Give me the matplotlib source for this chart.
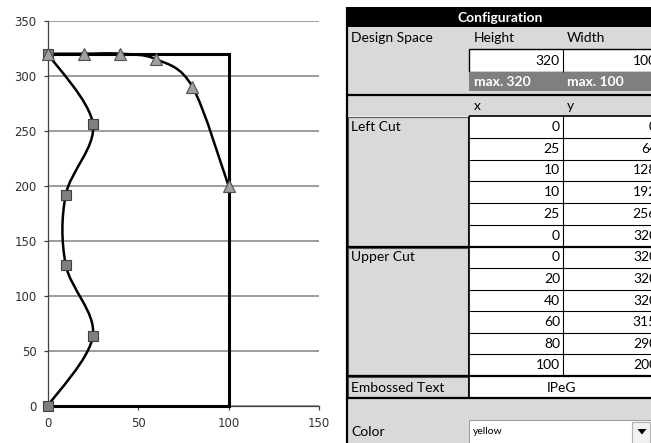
import matplotlib.pyplot as plt
from matplotlib.patches import Rectangle, PathPatch, Polygon
from matplotlib.path import Path

# chart data
design_w = 100
design_h = 320
left_x = [0, 25, 10, 10, 25, 0]
left_y = [0, 64, 128, 192, 256, 320]
upper_x = [0, 20, 40, 60, 80, 100]
upper_y = [320, 320, 320, 315, 290, 200]
x_ticks = [0, 50, 100, 150]
y_ticks = [0, 50, 100, 150, 200, 250, 300, 350]

# table texts
title = 'Configuration'
section_labels = ['Design Space', 'Left Cut', 'Upper Cut', 'Embossed Text', 'Color']
size_headers = ['Height', 'Width']
size_values = [design_h, design_w]
size_limits = ['max. 320', 'max. 100']
coord_headers = ['x', 'y']
embossed_text = 'IPeG'
color_choice = 'yellow'

W, H = 651, 443
fig = plt.figure(figsize=(W / 100, H / 100), dpi=100)


def smooth_path(xs, ys):
    # bezier through the points, like a spreadsheet "smoothed line"
    pts = list(zip(xs, ys))
    n = len(pts)
    verts = [pts[0]]
    codes = [Path.MOVETO]
    for i in range(n - 1):
        p0 = pts[max(i - 1, 0)]
        p1 = pts[i]
        p2 = pts[i + 1]
        p3 = pts[min(i + 2, n - 1)]
        c1 = (p1[0] + (p2[0] - p0[0]) / 6, p1[1] + (p2[1] - p0[1]) / 6)
        c2 = (p2[0] - (p3[0] - p1[0]) / 6, p2[1] - (p3[1] - p1[1]) / 6)
        verts += [c1, c2, p2]
        codes += [Path.CURVE4] * 3
    return Path(verts, codes)


# ---------------- chart ----------------
ax = fig.add_axes([47.7 / W, 37 / H, 271.3 / W, 385.3 / H])
ax.set_xlim(0, 150)
ax.set_ylim(0, 350)
ax.set_xticks(x_ticks)
ax.set_yticks(y_ticks)
ax.grid(axis='y', color='#8c8c8c', lw=1.2)
ax.set_axisbelow(True)
for s in ['top', 'right']:
    ax.spines[s].set_visible(False)
for s in ['left', 'bottom']:
    ax.spines[s].set_color('#404040')
    ax.spines[s].set_linewidth(0.9)
ax.tick_params(direction='out', length=3, width=0.9, color='#404040',
               labelsize=8.5, labelcolor='#303030', pad=5)

ax.plot([0, design_w, design_w, 0], [0, 0, design_h, design_h],
        color='black', lw=2.2, solid_joinstyle='miter', clip_on=False, zorder=3)
for xs, ys in [(left_x, left_y), (upper_x, upper_y)]:
    ax.add_patch(PathPatch(smooth_path(xs, ys), fill=False, edgecolor='black',
                           lw=1.8, zorder=4, clip_on=False))
ax.plot(left_x, left_y, ls='none', marker='s', ms=7, mfc='#7f7f7f',
        mec='#404040', mew=0.8, clip_on=False, zorder=5)
ax.plot(upper_x, upper_y, ls='none', marker='^', ms=8, mfc='#a0a0a0',
        mec='#505050', mew=0.8, clip_on=False, zorder=6)

# ---------------- table (pixel coordinates) ----------------
tx = fig.add_axes([0, 0, 1, 1], zorder=-1)
tx.set_xlim(0, W)
tx.set_ylim(H, 0)
tx.axis('off')

x0, xc1, xc2, x1 = 347, 469, 563, 660
light = '#d9d9d9'
dark = '#7f7f7f'
fnt = 'Lato'
fs = 10


def box(x, y, w, h, fc, ec='none', lw=0.8):
    tx.add_patch(Rectangle((x, y), w, h, facecolor=fc, edgecolor=ec, lw=lw))


def hline(y, xa, xb, lw=0.8, c='black'):
    tx.plot([xa, xb], [y, y], color=c, lw=lw, solid_capstyle='butt')


def vline(x, ya, yb, lw=0.8, c='black'):
    tx.plot([x, x], [ya, yb], color=c, lw=lw, solid_capstyle='butt')


def label(x, y, s, ha='left', color='black', weight='normal', size=fs):
    tx.text(x, y, s, ha=ha, va='center', color=color, fontweight=weight,
            fontsize=size, family=fnt)


# header
box(x0, 7, x1 - x0, 20, 'black')
label(500, 17.5, title, ha='center', color='white', weight='bold')

# design space block
box(x0, 27, x1 - x0, 67, light)
label(351, 38, section_labels[0])
label(474, 38, size_headers[0])
label(567, 38, size_headers[1])
box(xc1, 49, x1 - xc1, 23, 'white', 'black', 1.0)
vline(xc2, 49, 72)
label(560, 60.5, str(size_values[0]), ha='right')
label(657, 60.5, str(size_values[1]), ha='right')
box(xc1, 72, x1 - xc1, 19, dark)
label(474, 81.5, size_limits[0], color='white', weight='bold')
label(567, 81.5, size_limits[1], color='white', weight='bold')
hline(94.5, x0, x1, lw=1.6)

# coordinate header row
box(x0, 95.5, x1 - x0, 20.5, light)
label(474, 106, coord_headers[0])
label(567, 106, coord_headers[1])


def coord_block(top, bottom, name, xs, ys):
    n = len(xs)
    rh = (bottom - top) / n
    box(x0 + 1, top + 1, xc1 - x0 - 2, bottom - top - 2, light, '#555555', 0.8)
    label(351, top + rh / 2, name)
    box(xc1, top, x1 - xc1, bottom - top, 'white')
    for i in range(n):
        yy = top + rh * i
        if i > 0:
            hline(yy, xc1, x1)
        label(560, yy + rh / 2, str(xs[i]), ha='right')
        label(657, yy + rh / 2, str(ys[i]), ha='right')
    vline(xc1, top, bottom, lw=1.2)
    vline(xc2, top, bottom, lw=0.8)


hline(116, xc1, x1, lw=1.2)
coord_block(116, 246.7, section_labels[1], left_x, left_y)
hline(246.7, x0, x1, lw=1.6)
coord_block(246.7, 376, section_labels[2], upper_x, upper_y)
hline(376, x0, x1, lw=1.6)

# embossed text
box(x0 + 1, 377, xc1 - x0 - 2, 20, light, '#555555', 0.8)
label(351, 387.5, section_labels[3])
box(xc1, 376.5, x1 - xc1, 21, 'white')
vline(xc1, 376, 398, lw=1.2)
label(561, 387.5, embossed_text, ha='center')
hline(398, x0, x1, lw=1.6)

# color
box(x0, 399, x1 - x0, 44, light)
label(351, 432, section_labels[4])
box(xc1, 420, 651 - xc1, 24, 'white', '#a0a0a0', 0.8)
label(473, 431.5, color_choice, size=7.5)
box(632, 421.5, 18, 21, '#f2f2f2', '#b0b0b0', 0.8)
tx.add_patch(Polygon([[637.5, 429], [646.5, 429], [642, 434.5]], closed=True,
                     facecolor='black', edgecolor='none'))

# left table border
vline(x0, 7, 443, lw=1.6)

fig.savefig('out.png', dpi=100)
